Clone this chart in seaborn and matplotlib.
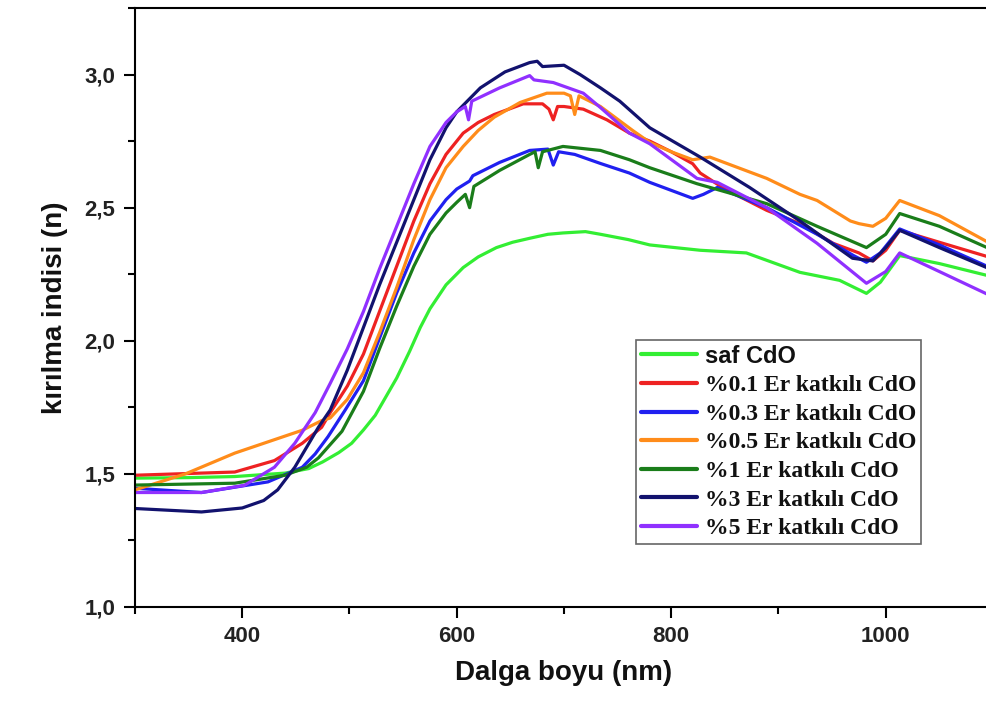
import matplotlib
matplotlib.use("Agg")
import matplotlib.pyplot as plt
import seaborn as sns
import pandas as pd
from matplotlib.ticker import MultipleLocator, FuncFormatter

# ---------------- data ----------------
labels = ["saf CdO", "%0.1 Er katkılı CdO", "%0.3 Er katkılı CdO", "%0.5 Er katkılı CdO",
          "%1 Er katkılı CdO", "%3 Er katkılı CdO", "%5 Er katkılı CdO"]
colors = ["#33ee33", "#ee2222", "#2020f0", "#ff8c1a", "#1a7d1a", "#12126e", "#9030ff"]

x_saf = [300, 350, 393, 440, 462, 475, 490, 502, 513, 524, 534, 544, 556, 566, 575, 590, 606,
         620, 637, 652, 668, 685, 699, 720, 734, 760, 780, 827, 870, 920, 957, 982, 995, 1013,
         1050, 1100]
y_saf = [1.484, 1.486, 1.49, 1.503, 1.52, 1.545, 1.58, 1.615, 1.665, 1.72, 1.79, 1.86, 1.96,
         2.05, 2.12, 2.21, 2.275, 2.315, 2.35, 2.37, 2.385, 2.40, 2.405, 2.41, 2.40, 2.38, 2.36,
         2.34, 2.33, 2.257, 2.227, 2.178, 2.22, 2.32, 2.29, 2.24]

x_01 = [300, 393, 430, 456, 474, 482, 498, 513, 528, 544, 560, 575, 590, 606, 620, 635, 662,
        680, 686, 690, 694, 700, 718, 740, 761, 780, 800, 820, 827, 850, 889, 920, 951, 975,
        988, 1000, 1013, 1050, 1100]
y_01 = [1.495, 1.507, 1.55, 1.615, 1.675, 1.73, 1.83, 1.95, 2.11, 2.28, 2.45, 2.59, 2.70, 2.78,
        2.82, 2.85, 2.89, 2.89, 2.87, 2.83, 2.88, 2.88, 2.87, 2.83, 2.78, 2.75, 2.71, 2.665,
        2.63, 2.57, 2.49, 2.44, 2.366, 2.33, 2.30, 2.34, 2.415, 2.37, 2.31]

x_03 = [300, 362, 424, 456, 468, 480, 496, 513, 528, 544, 560, 575, 590, 600, 612, 615, 640,
        668, 685, 690, 695, 710, 734, 761, 780, 820, 830, 843, 889, 936, 970, 982, 995, 1013,
        1050, 1100]
y_03 = [1.446, 1.43, 1.47, 1.525, 1.575, 1.64, 1.74, 1.85, 2.01, 2.18, 2.33, 2.45, 2.53, 2.57,
        2.60, 2.62, 2.67, 2.715, 2.72, 2.66, 2.71, 2.70, 2.666, 2.63, 2.595, 2.535, 2.55, 2.576,
        2.50, 2.40, 2.32, 2.295, 2.33, 2.42, 2.36, 2.27]

x_05 = [300, 347, 393, 456, 474, 482, 498, 513, 528, 544, 560, 575, 590, 606, 620, 635, 659,
        684, 700, 706, 710, 714, 734, 764, 780, 800, 820, 836, 889, 920, 936, 967, 975, 988,
        1000, 1013, 1050, 1100]
y_05 = [1.44, 1.50, 1.578, 1.664, 1.70, 1.71, 1.78, 1.88, 2.03, 2.20, 2.38, 2.53, 2.65, 2.73,
        2.79, 2.84, 2.895, 2.93, 2.93, 2.92, 2.85, 2.92, 2.88, 2.79, 2.745, 2.71, 2.68, 2.69,
        2.61, 2.55, 2.527, 2.45, 2.44, 2.43, 2.46, 2.527, 2.47, 2.36]

x_1 = [300, 393, 440, 460, 471, 482, 493, 513, 528, 544, 560, 575, 590, 600, 608, 612, 616,
       640, 668, 673, 676, 680, 699, 734, 761, 780, 824, 889, 936, 982, 1000, 1013, 1050, 1100]
y_1 = [1.458, 1.465, 1.495, 1.525, 1.56, 1.61, 1.66, 1.81, 1.97, 2.13, 2.28, 2.40, 2.48, 2.52,
       2.55, 2.50, 2.58, 2.64, 2.70, 2.71, 2.65, 2.71, 2.73, 2.715, 2.68, 2.65, 2.59, 2.515,
       2.43, 2.35, 2.40, 2.478, 2.43, 2.34]

x_3 = [300, 362, 400, 420, 433, 449, 460, 471, 482, 498, 513, 528, 544, 560, 575, 590, 600,
       622, 645, 668, 675, 680, 700, 715, 734, 752, 780, 827, 873, 920, 969, 988, 1000, 1013,
       1050, 1100]
y_3 = [1.37, 1.357, 1.372, 1.40, 1.44, 1.525, 1.60, 1.675, 1.74, 1.89, 2.05, 2.21, 2.37, 2.53,
       2.68, 2.80, 2.86, 2.95, 3.01, 3.045, 3.05, 3.03, 3.035, 3.00, 2.95, 2.90, 2.80, 2.69,
       2.576, 2.45, 2.31, 2.30, 2.35, 2.415, 2.35, 2.265]

x_5 = [300, 362, 402, 430, 449, 468, 482, 498, 513, 528, 544, 560, 575, 590, 600, 608, 611,
       614, 640, 668, 672, 690, 718, 734, 761, 780, 824, 843, 889, 936, 982, 1000, 1013, 1050,
       1100]
y_5 = [1.43, 1.43, 1.457, 1.525, 1.615, 1.73, 1.84, 1.97, 2.11, 2.27, 2.43, 2.59, 2.73, 2.82,
       2.86, 2.88, 2.83, 2.90, 2.95, 2.996, 2.98, 2.97, 2.93, 2.876, 2.78, 2.74, 2.61, 2.595,
       2.50, 2.366, 2.216, 2.26, 2.33, 2.26, 2.165]

xs = [x_saf, x_01, x_03, x_05, x_1, x_3, x_5]
ys = [y_saf, y_01, y_03, y_05, y_1, y_3, y_5]

x_ticks = [400, 600, 800, 1000]
y_ticks = [1.0, 1.5, 2.0, 2.5, 3.0]

# ---------------- figure ----------------
sns.set_theme(style="white")
plt.rcParams["font.family"] = ["Liberation Sans", "DejaVu Sans"]

fig = plt.figure(figsize=(9.87, 7.04), dpi=100)
ax = fig.add_axes([135 / 987, 1 - 607 / 704, 858 / 987, 599 / 704])

for lab, col, xv, yv in zip(labels, colors, xs, ys):
    df = pd.DataFrame({"x": xv, "y": yv})
    sns.lineplot(data=df, x="x", y="y", ax=ax, color=col, lw=2.3, label=lab,
                 estimator=None, sort=False)

ax.set_xlim(300, 1100)
ax.set_ylim(1.0, 3.25)
ax.set_xticks(x_ticks)
ax.set_yticks(y_ticks)
ax.xaxis.set_minor_locator(MultipleLocator(100))
ax.yaxis.set_minor_locator(MultipleLocator(0.25))
ax.yaxis.set_major_formatter(FuncFormatter(lambda v, p: f"{v:.1f}".replace(".", ",")))

for s in ax.spines.values():
    s.set_color("black")
    s.set_linewidth(1.5)

ax.tick_params(which="major", direction="out", length=8, width=1.5, color="black",
               labelsize=16, pad=6, bottom=True, left=True)
ax.tick_params(which="minor", direction="out", length=5, width=1.5, color="black",
               bottom=True, left=True)
for t in ax.get_xticklabels() + ax.get_yticklabels():
    t.set_fontweight("bold")
    t.set_color("#222222")

ax.set_xlabel("Dalga boyu (nm)", fontsize=20, fontweight="bold", labelpad=9, color="#111111")
ax.set_ylabel("kırılma indisi (n)", fontsize=20, fontweight="bold", labelpad=12, color="#111111")

leg = ax.legend(loc="upper left", bbox_to_anchor=(0.584, 0.446), borderaxespad=0,
                fontsize=17, labelspacing=0.3, handlelength=2.4, handletextpad=0.3,
                borderpad=0.2, fancybox=False, framealpha=1, edgecolor="#666666")
leg.get_frame().set_linewidth(1.2)
for i, (t, h) in enumerate(zip(leg.get_texts(), leg.get_lines())):
    h.set_linewidth(3)
    if i == 0:
        t.set_fontproperties({"family": ["Liberation Sans", "DejaVu Sans"], "weight": "bold", "size": 17})
    else:
        t.set_fontproperties({"family": ["Liberation Serif", "DejaVu Serif"], "weight": "bold", "size": 17})
    t.set_color("#111111")

fig.savefig("out.png", dpi=100)
